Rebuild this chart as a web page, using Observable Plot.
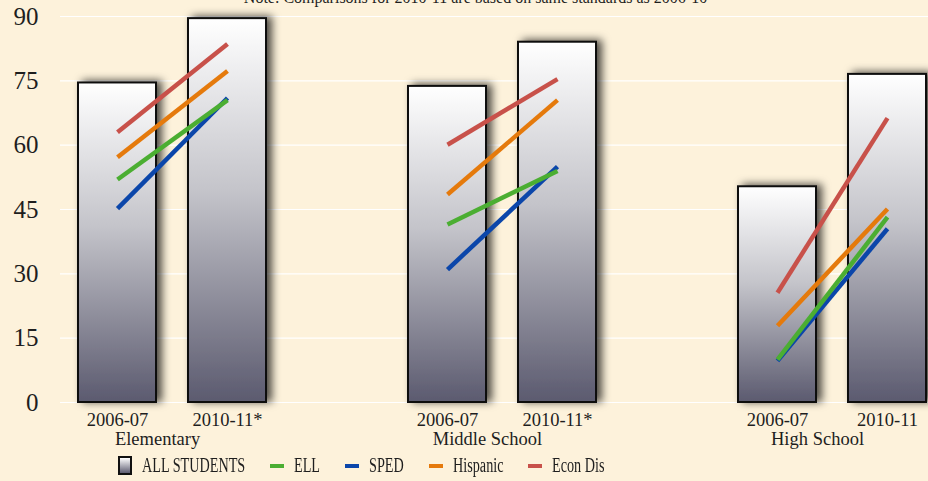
<!DOCTYPE html>
<html>
<head>
<meta charset="utf-8">
<script src="https://cdn.jsdelivr.net/npm/d3@7"></script>
<script src="https://cdn.jsdelivr.net/npm/@observablehq/plot@0.6"></script>
<style>
  html, body { margin: 0; padding: 0; background: #FDF2DB; overflow: hidden; }
  #chart { width: 928px; }
  .legend { display: flex; align-items: center; height: 31px; padding-left: 118px;
            font-family: "Liberation Serif", serif; font-size: 20px; color: #1e1e1e; }
  .item { display: flex; align-items: center; margin-right: 25px; }
  .swatch { box-sizing: border-box; width: 14px; height: 19px; border: 2px solid #111;
            background: linear-gradient(#ffffff, #5d5c71); margin-right: 10px; }
  .ln { width: 14px; height: 4px; margin-right: 10px; }
  .lbl { overflow: visible; white-space: nowrap; }
  .lbl span { display: inline-block; transform: scaleX(0.71); transform-origin: left center; }
</style>
</head>
<body>
<div id="chart"></div>
<script>
// ---- data ----
const levels = ["Elementary", "Middle School", "High School"];
const yearLabels = [["2006-07", "2010-11*"], ["2006-07", "2010-11*"], ["2006-07", "2010-11"]];
const allStudents = [[74.5, 89.5], [73.7, 84.0], [50.3, 76.5]];
const ell      = [[52.0, 70.5], [41.5, 54.0], [10.0, 43.2]];
const sped     = [[45.2, 71.0], [31.0, 55.0], [9.7, 40.5]];
const hispanic = [[57.2, 77.3], [48.5, 70.5], [17.9, 45.1]];
const econDis  = [[63.0, 83.6], [60.1, 75.4], [25.6, 66.3]];
const seriesNames = ["ELL", "SPED", "Hispanic", "Econ Dis"];
const seriesColors = ["#4BAE32", "#0B46AA", "#E57A0C", "#C8514A"];
const yTicks = [0, 15, 30, 45, 60, 75, 90];
const note = "Note: Comparisons for 2010-11 are based on same standards as 2006-10";

// ---- derived tables ----
const slots = [];
const barKeys = [];
const keyLabel = {};
levels.forEach((lv, i) => {
  [0, 1].forEach(j => {
    const k = `${i}-${j}`;
    slots.push(k); barKeys.push(k); keyLabel[k] = yearLabels[i][j];
  });
  if (i < levels.length - 1) slots.push(`${i}-gap`);
});
const bars = [];
levels.forEach((lv, i) => [0, 1].forEach(j => bars.push({key: `${i}-${j}`, value: allStudents[i][j]})));
const seriesData = {ELL: ell, SPED: sped, Hispanic: hispanic, "Econ Dis": econDis};
const drawOrder = ["SPED", "ELL", "Hispanic", "Econ Dis"];
const lines = [];
drawOrder.forEach(s => levels.forEach((lv, i) => [0, 1].forEach(j =>
  lines.push({key: `${i}-${j}`, level: lv, series: s, value: seriesData[s][i][j]}))));
const levelRows = levels.map((lv, i) => ({key: `${i}-0`, level: lv}));

const svgNS = "http://www.w3.org/2000/svg";
function defs() {
  const d = document.createElementNS(svgNS, "defs");
  d.innerHTML = `
    <linearGradient id="barGrad" x1="0" y1="0" x2="0" y2="1">
      <stop offset="0" stop-color="#ffffff"/>
      <stop offset="0.45" stop-color="#c4c4ca"/>
      <stop offset="1" stop-color="#5b5a6f"/>
    </linearGradient>
    <filter id="shadow" x="-30%" y="-10%" width="160%" height="120%">
      <feDropShadow dx="5" dy="-1" stdDeviation="4" flood-color="#000" flood-opacity="0.7"/>
    </filter>`;
  return d;
}

const chart = Plot.plot({
  width: 928,
  height: 450,
  marginTop: 16,
  marginBottom: 48,
  marginLeft: 60,
  marginRight: 0,
  style: {background: "#FDF2DB", fontFamily: "Liberation Serif, serif", color: "#1e1e1e"},
  x: {type: "band", domain: slots, range: [43.5, 960], padding: 0.294, axis: null},
  y: {domain: [0, 90], axis: null},
  color: {domain: seriesNames, range: seriesColors},
  marks: [
    defs,
    Plot.gridY(yTicks, {stroke: "#ffffff", strokeOpacity: 1, strokeWidth: 1.2}),
    Plot.axisY(yTicks, {tickSize: 0, tickPadding: 22, fontSize: 25, label: null}),
    Plot.barY(bars, {x: "key", y: "value", fill: "url(#barGrad)", stroke: "#111", strokeWidth: 2}),
    Plot.line(lines, {x: "key", y: "value", z: d => d.level + d.series, stroke: "series",
                      strokeWidth: 4.5, strokeLinecap: "butt"}),
    Plot.axisX(barKeys, {tickSize: 0, tickPadding: 10, fontSize: 18.5, label: null, tickFormat: k => keyLabel[k]}),
    Plot.text(levelRows, {x: "key", y: () => 0, text: "level", dx: 40, dy: 37, fontSize: 18.5, lineAnchor: "middle"}),
    Plot.text([note], {frameAnchor: "top", dx: -19, dy: -14, lineAnchor: "bottom", fontSize: 16})
  ]
});
const barGroup = chart.querySelector('g[aria-label="bar"]');
if (barGroup) barGroup.setAttribute("filter", "url(#shadow)");
chart.style.overflow = "hidden";
document.getElementById("chart").appendChild(chart);

// ---- legend ----
const legend = document.createElement("div");
legend.className = "legend";
const addItem = (markerClass, color, label) => {
  const item = document.createElement("div");
  item.className = "item";
  const m = document.createElement("div");
  m.className = markerClass;
  if (color) m.style.background = color;
  const lbl = document.createElement("div");
  lbl.className = "lbl";
  const sp = document.createElement("span");
  sp.textContent = label;
  lbl.appendChild(sp);
  item.appendChild(m); item.appendChild(lbl);
  legend.appendChild(item);
  return lbl;
};
const lbls = [addItem("swatch", null, "ALL STUDENTS")];
seriesNames.forEach((s, i) => lbls.push(addItem("ln", seriesColors[i], s)));
document.getElementById("chart").appendChild(legend);
lbls.forEach(l => { const w = l.firstChild.getBoundingClientRect().width; l.style.width = w + "px"; });
</script>
</body>
</html>
